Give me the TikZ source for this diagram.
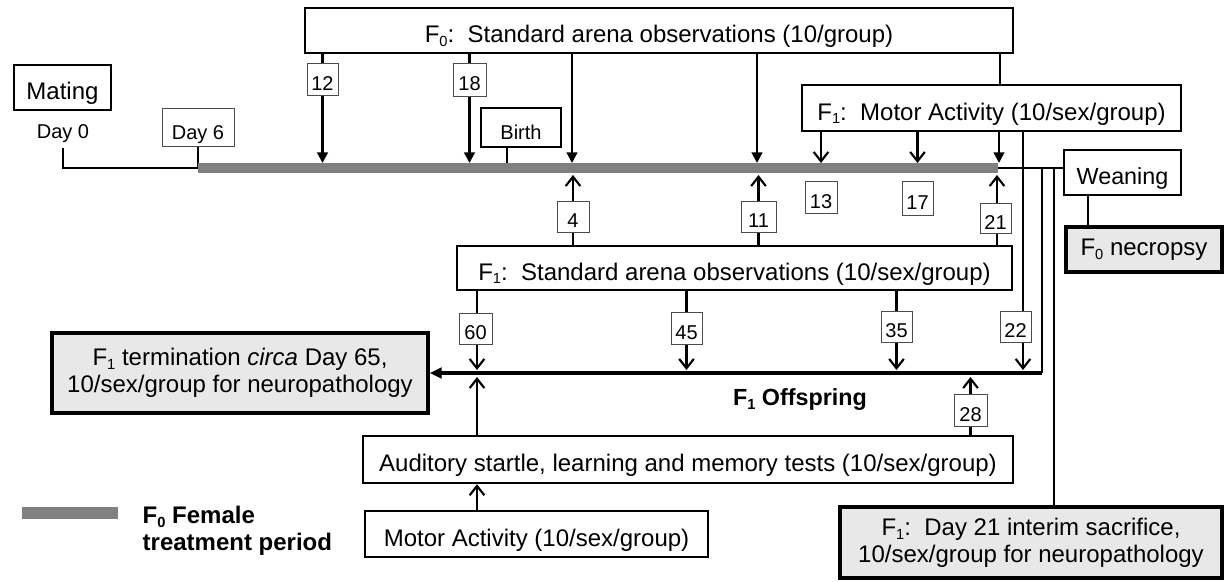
\documentclass[tikz,border=0pt]{standalone}
\usepackage{fontspec}
\setmainfont{Liberation Sans}
\usetikzlibrary{arrows.meta,backgrounds}
% small lowered index digit, as in F_0 / F_1
\newcommand\lowidx[1]{\raisebox{-0.3ex}{\fontsize{11}{11}\selectfont #1}}

\begin{document}
\begin{tikzpicture}[x=0.75pt,y=-0.75pt,
  area/.style args={#1/#2}{minimum width=#1*0.75pt, minimum height=#2*0.75pt},
  box/.style={draw=black, line width=1.8pt, inner sep=0pt, fill=white,
              font=\fontsize{18}{21}\selectfont, text height=18pt, text depth=0pt},
  shaded/.style={draw=black, line width=2.6pt, inner sep=0pt, fill=gray!18,
                 align=center, font=\fontsize{18}{20}\selectfont},
  tag/.style={draw=gray!60!black, line width=0.6pt, fill=white, inner sep=0pt,
              font=\fontsize{15}{15}\selectfont, text height=17pt, text depth=0pt},
  link/.style={line width=1.7pt},
  tip/.style={link, -{Triangle[length=8pt,width=8pt]}},
  barb/.style={link, -{Straight Barb[length=7pt,width=11pt,line width=1.6pt]}},
  period/.style={line width=7.5pt, draw=gray},
  small/.style={font=\fontsize{15}{15}\selectfont}
]
\useasboundingbox (0,0) rectangle (1225,582);

% ---- boxes ----
\node[box, area=708/45] (f0) at (659,30.5) {F\lowidx{0}:\ \ Standard arena observations (10/group)};
\node[box, area=97/45] (mating) at (62.5,87.5) {Mating};
\node[small] (day0) at (63,134) {Day 0};
\node[tag, small, text height=18pt, area=72/38] (day6) at (198,127) {Day 6};
\node[box, small, line width=1.4pt, area=80/39] (birth) at (521,127.5) {Birth};
\node[box, area=379/46] (mot1) at (991.5,108) {F\lowidx{1}:\ \ Motor Activity (10/sex/group)};
\node[box, font=\fontsize{17.5}{20}\selectfont, area=117/45] (wean) at (1122.5,172.5) {Weaning};
\node[shaded, area=156/45] (necro) at (1144,249.5) {F\lowidx{0} necropsy};
\node[box, area=555/44] (arena1) at (734.5,268) {F\lowidx{1}:\ \ Standard arena observations (10/sex/group)};
\node[shaded, area=376/80] (term) at (240,373)
  {F\lowidx{1} termination \textit{circa} Day 65,\\10/sex/group for neuropathology};
\node[box, area=650/47] (audit) at (688,459.5) {Auditory startle, learning and memory tests (10/sex/group)};
\node[box, area=343/46] (mot2) at (536.5,534) {Motor Activity (10/sex/group)};
\node[shaded, area=382/71] (interim) at (1031,542.5)
  {F\lowidx{1}:\ \ Day 21 interim sacrifice,\\10/sex/group for neuropathology};

% ---- day tags ----
\node[tag, area=31/32] (t12) at (322.5,79)   {12};
\node[tag, area=33/33] (t18) at (469.5,79.5) {18};
\node[tag, area=32/32] (t13) at (821,197)    {13};
\node[tag, area=31/34] (t17) at (917.5,198)  {17};
\node[tag, area=32/31] (t4)  at (573,216.5)  {4};
\node[tag, area=35/31] (t11) at (758.5,216.5) {11};
\node[tag, area=31/30] (t21) at (995.5,218)  {21};
\node[tag, area=33/31] (t60) at (475.5,328.5) {60};
\node[tag, area=31/32] (t45) at (686.5,328)  {45};
\node[tag, area=31/31] (t35) at (896.5,326.5) {35};
\node[tag, area=31/31] (t22) at (1015.5,326.5) {22};
\node[tag, area=33/32] (t28) at (970.5,410)  {28};

% ---- labels ----
\node[font=\bfseries\fontsize{17.5}{20}\selectfont] (offs) at (800,400) {F\lowidx{1} Offspring};
\node[anchor=west, align=left, font=\bfseries\fontsize{18}{20}\selectfont] (legend) at (138,531)
  {F\lowidx{0} Female\\treatment period};

% ---- time line coordinates ----
\coordinate (barL) at (198,168);
\coordinate (barR) at (998,168);
\coordinate (bt) at (0,163);   % top edge of treatment bar
\coordinate (bb) at (0,175);   % bottom edge of treatment bar
\coordinate (ot) at (0,370);   % top edge of offspring line
\coordinate (ob) at (0,377);   % bottom edge of offspring line
\coordinate (jA) at (1042,168);
\coordinate (jB) at (1054,168);
\coordinate (oR) at (1042,373);
\coordinate (lgL) at (22,513);
\coordinate (lgR) at (118,513);

\begin{scope}[on background layer]
  % mating to treatment start
  \draw[link] (day0.south) -- (day0.south |- barL) -- (barL);
  \draw[link] (day6.south) -- (barL);
  % treatment period and weaning line
  \draw[period] (barL) -- (barR);
  \draw[link] (barR) -- (wean.west |- barR);
  \draw[period, line width=8.3pt] (lgL) -- (lgR);

  % F0 arena observations
  \draw[tip] (f0.south -| t12) -- (t12 |- bt);
  \draw[tip] (f0.south -| t18) -- (t18 |- bt);
  \draw[tip] (f0.south -| 572,0) -- (572,163);
  \draw[tip] (f0.south -| 757,0) -- (757,163);
  \draw[link] (f0.south -| 1000,0) -- (mot1.north -| 1000,0);
  \draw[link] (birth.south -| 507,0) -- (507,163);

  % F1 motor activity
  \draw[barb] (mot1.south -| t13) -- (t13 |- bt);
  \draw[barb] (mot1.south -| t17) -- (t17 |- bt);
  \draw[tip]  (mot1.south -| 999,0) -- (999,163);
  \draw[barb] (mot1.south -| 1023,0) -- (1023,370);

  % F1 arena observations
  \draw[barb] (arena1.north -| t4)  -- (t4 |- bb);
  \draw[barb] (arena1.north -| t11) -- (t11 |- bb);
  \draw[barb] (arena1.north -| 997,0) -- (997,175);
  \draw[barb] (arena1.south -| 477,0) -- (477,370);
  \draw[barb] (arena1.south -| t45) -- (t45 |- ot);
  \draw[barb] (arena1.south -| t35) -- (t35 |- ot);

  % offspring line and interim sacrifice
  \draw[link] (jA) -- (oR);
  \draw[line width=2.8pt, -{Triangle[length=9pt,width=8pt]}] (oR) -- (term.east);
  \draw[link] (jB) -- (interim.north -| jB);

  % learning tests and motor activity
  \draw[barb] (audit.north -| 477,0) -- (477,377);
  \draw[barb] (audit.north -| t28) -- (t28 |- ob);
  \draw[barb] (mot2.north -| 477,0) -- (audit.south -| 477,0);

  % weaning to necropsy
  \draw[link] (wean.south -| 1088,0) -- (necro.north -| 1088,0);
\end{scope}
\end{tikzpicture}
\end{document}
